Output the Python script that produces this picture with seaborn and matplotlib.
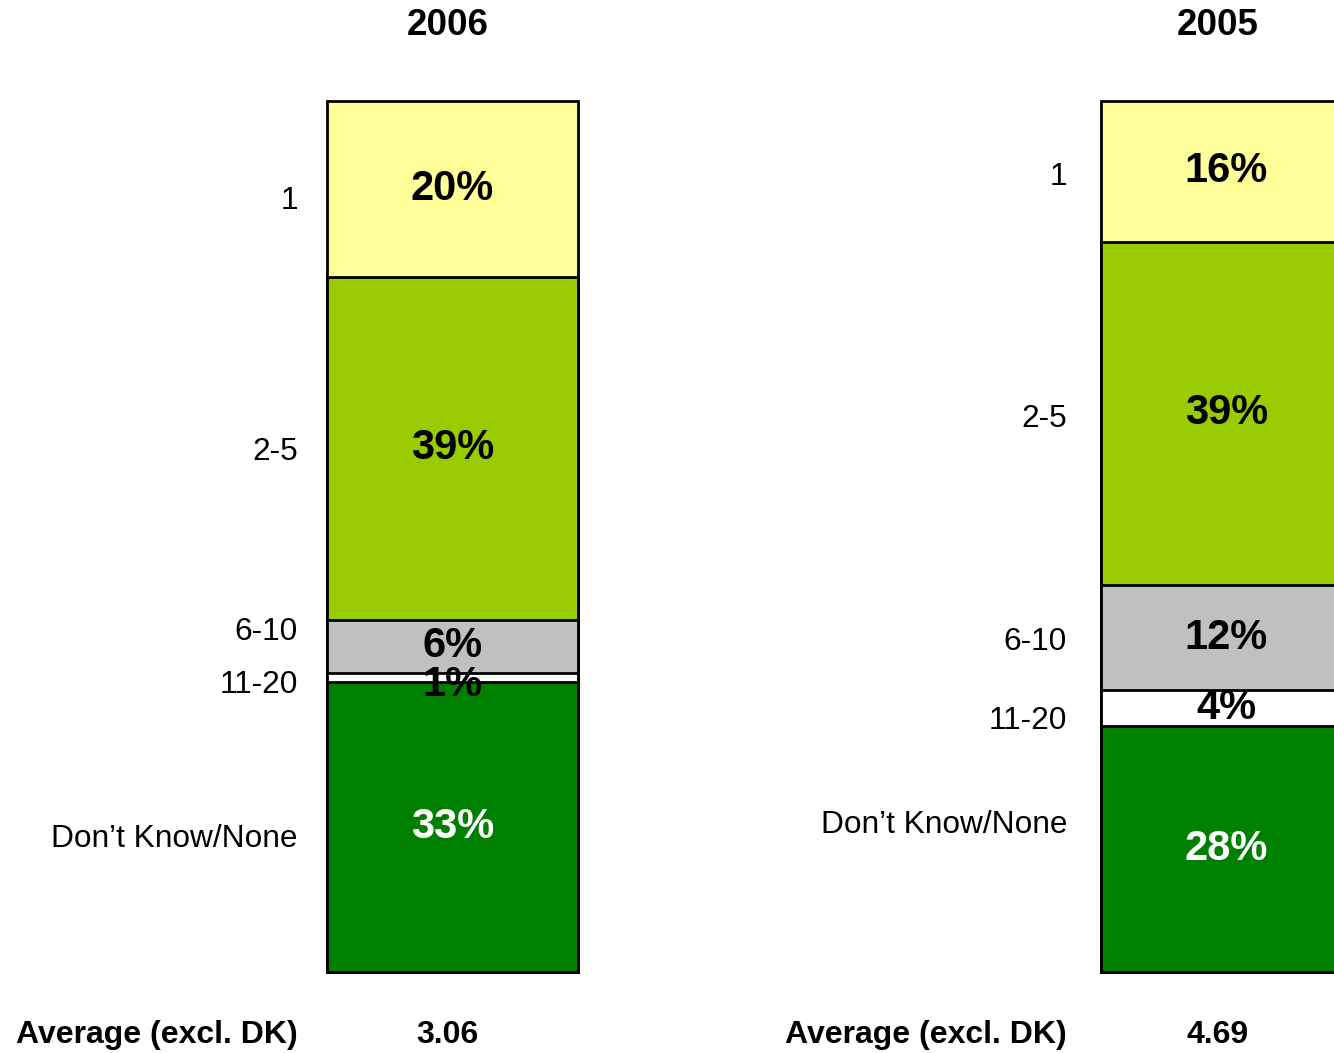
import matplotlib
matplotlib.use("Agg")
import matplotlib.pyplot as plt
import matplotlib.transforms as mtransforms
import seaborn as sns
import numpy as np

# Survey answers: number of ... (bottom segment first)
years = ["2006", "2005"]
categories = ["Don\u2019t Know/None", "11-20", "6-10", "2-5", "1"]
share_2006 = [33, 1, 6, 39, 20]
share_2005 = [28, 4, 12, 39, 16]
averages = ["3.06", "4.69"]
average_label = "Average (excl. DK)"

seg_colors = ["#008000", "#FFFFFF", "#C0C0C0", "#99CC00", "#FFFF99"]
value_colors = ["white", "black", "black", "black", "black"]

sns.set_style("white")
plt.rcParams["font.family"] = ["Liberation Sans", "DejaVu Sans"]
plt.rcParams["text.color"] = "black"

fig = plt.figure(figsize=(13.34, 10.53), dpi=100)
ax = fig.add_axes([0.0, 0.0769, 1.0, 0.8274])

shares = np.array([share_2006, share_2005])  # rows: years, cols: categories
cum = np.cumsum(shares, axis=1)
bar_w = 0.324

# stacked bars: draw the tallest cumulative bar first, then overlay the lower ones
for k in range(len(categories) - 1, -1, -1):
    sns.barplot(x=years, y=cum[:, k], order=years, width=bar_w,
                color=seg_colors[k], saturation=1, edgecolor="black",
                linewidth=2.0, errorbar=None, ax=ax)
for patch in ax.patches:
    patch.set_clip_on(False)

ax.set_xlim(-0.5846, 1.1389)
ax.set_ylim(0, 99)
ax.axis("off")

fig_tr = mtransforms.blended_transform_factory(ax.transData, fig.transFigure)

# small vertical shifts for the category labels, so thin segments stay legible
label_shift = [[-1.4, -0.9, 1.6, -0.4, -1.4],
               [2.7, -1.5, -0.5, -0.7, -0.7]]
# horizontal nudge of the text columns for each year
text_dx = [0.0, -0.006]

for i, year in enumerate(years):
    bottoms = cum[i] - shares[i]
    centers = bottoms + shares[i] / 2.0
    label_x = i - bar_w / 2 - 0.038 + text_dx[i]
    center_x = i - 0.006 + text_dx[i]
    for k, cat in enumerate(categories):
        y = centers[k] - (0.9 if shares[i][k] < 3 else 0.0)
        ax.text(i, y, f"{shares[i][k]}%", ha="center", va="center",
                fontsize=30, fontweight="bold", color=value_colors[k])
    for k, cat in enumerate(categories):
        ax.text(label_x, centers[k] + label_shift[i][k], cat, ha="right",
                va="center", fontsize=22.8, color="black")
    ax.text(center_x, 0.976, year, transform=fig_tr, ha="center", va="center",
            fontsize=26.5, fontweight="bold")
    ax.text(label_x, 0.017, average_label, transform=fig_tr, ha="right",
            va="center", fontsize=23, fontweight="bold")
    ax.text(center_x, 0.017, averages[i], transform=fig_tr, ha="center",
            va="center", fontsize=23, fontweight="bold")

fig.savefig("out.png", dpi=100, facecolor="white")
